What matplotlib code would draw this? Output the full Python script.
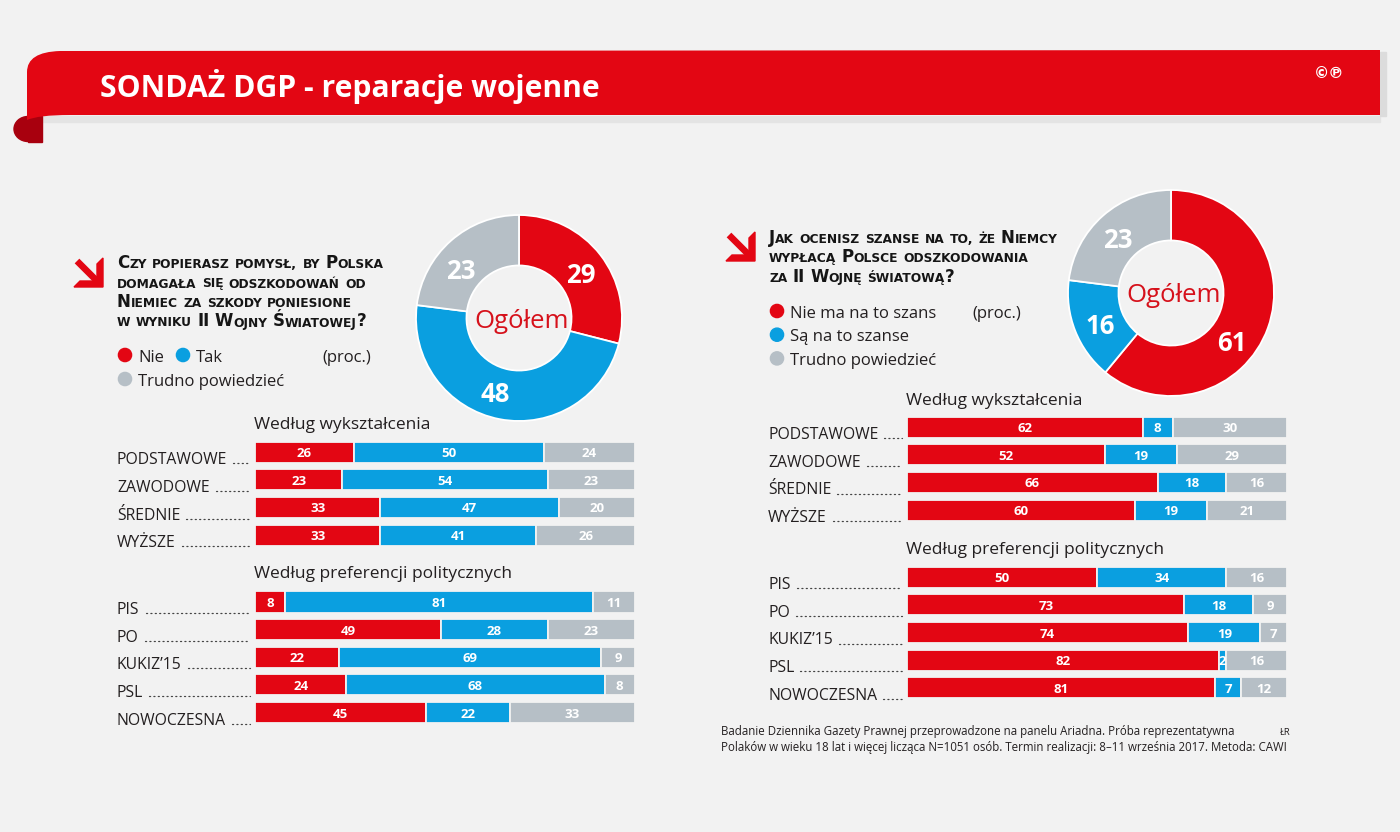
import matplotlib
matplotlib.use('Agg')
import matplotlib.pyplot as plt
from matplotlib.patches import Ellipse, Circle, PathPatch, Rectangle, Polygon
from matplotlib.path import Path
import numpy as np

# ---------------- data ----------------
left_total = [29, 48, 23]            # Nie, Tak, Trudno powiedzieć
right_total = [61, 16, 23]           # Nie ma na to szans, Są na to szanse, Trudno powiedzieć

edu_cats = ['PODSTAWOWE', 'ZAWODOWE', 'ŚREDNIE', 'WYŻSZE']
pol_cats = ['PIS', 'PO', 'KUKIZ\u201915', 'PSL', 'NOWOCZESNA']

left_edu_nie = [26, 23, 33, 33]
left_edu_tak = [50, 54, 47, 41]
left_edu_tr = [24, 23, 20, 26]

left_pol_nie = [8, 49, 22, 24, 45]
left_pol_tak = [81, 28, 69, 68, 22]
left_pol_tr = [11, 23, 9, 8, 33]

right_edu_nie = [62, 52, 66, 60]
right_edu_sz = [8, 19, 18, 19]
right_edu_tr = [30, 29, 16, 21]

right_pol_nie = [50, 73, 74, 82, 81]
right_pol_sz = [34, 18, 19, 2, 7]
right_pol_tr = [16, 9, 7, 16, 12]

left_legend = ['Nie', 'Tak', 'Trudno powiedzieć']
right_legend = ['Nie ma na to szans', 'Są na to szanse', 'Trudno powiedzieć']

left_question = ['Czy popierasz pomysł, by Polska',
                 'domagała się odszkodowań od',
                 'Niemiec za szkody poniesione',
                 'w wyniku II Wojny Światowej?']
right_question = ['Jak ocenisz szanse na to, że Niemcy',
                  'wypłacą Polsce odszkodowania',
                  'za II Wojnę światową?']

title = 'SONDAŻ DGP - reparacje wojenne'
footnote = ['Badanie Dziennika Gazety Prawnej przeprowadzone na panelu Ariadna. Próba reprezentatywna',
            'Polaków w wieku 18 lat i więcej licząca N=1051 osób. Termin realizacji: 8\u201311 września 2017. Metoda: CAWI']

# ---------------- style ----------------
FONT = ['Open Sans', 'DejaVu Sans']
plt.rcParams['font.family'] = FONT
RED = '#e30613'
BLUE = '#0a9fe0'
GREY = '#b6bfc6'
COLORS = [RED, BLUE, GREY]
BG = '#f2f2f2'
TXT = '#231f20'
W, H = 1400, 832
STEP = 27.65

fig = plt.figure(figsize=(14, 8.32), dpi=100)
fig.patch.set_facecolor(BG)
ax = fig.add_axes([0, 0, 1, 1])
ax.set_xlim(0, W)
ax.set_ylim(H, 0)
ax.axis('off')
renderer = fig.canvas.get_renderer()

# ---------------- banner ----------------
ax.add_patch(Rectangle((30, 116), 1350, 6, color='#e4e4e4', zorder=0))
ax.add_patch(Ellipse((28, 129), 28, 25, color='#a8000e', zorder=1))
ax.add_patch(Rectangle((28, 116), 14, 25.5, color='#a8000e', zorder=1))
band = Path([(27, 120), (27, 72), (27, 52), (60, 51), (1380, 50), (1380, 115),
             (70, 115), (38, 115), (27, 120), (27, 120)],
            [Path.MOVETO, Path.LINETO, Path.CURVE3, Path.CURVE3, Path.LINETO, Path.LINETO,
             Path.LINETO, Path.CURVE3, Path.CURVE3, Path.CLOSEPOLY])
ax.add_patch(PathPatch(band, facecolor=RED, edgecolor='none', zorder=2))
ax.add_patch(Rectangle((1380, 52), 6, 64, color='#dcdcdc', zorder=0))
ax.text(100, 97, title, color='white', fontsize=21.7, fontweight='bold', va='baseline', zorder=3)
ax.text(1329, 73, '\u00a9\u2117', color='white', fontsize=11, fontweight='bold',
        ha='center', va='center', zorder=3, family=['DejaVu Sans'])


# ---------------- arrows ----------------
def draw_arrow(cx, cy, s=29, t=6):
    head = [(cx, cy), (cx - s, cy), (cx - s + t, cy - t), (cx - t, cy - t),
            (cx - t, cy - s + t), (cx, cy - s)]
    ax.add_patch(Polygon(head, closed=True, color=RED, zorder=3))
    ax.plot([cx - s + 3, cx - t + 1], [cy - s + 3, cy - t + 1], color=RED,
            lw=t / 1.389 * 1.1, solid_capstyle='butt', zorder=3)


draw_arrow(103, 287)
draw_arrow(755, 261)


# ---------------- small caps text ----------------
def small_caps(x, y, s, big, small):
    cur = x
    for wi, word in enumerate(s.split(' ')):
        if wi > 0:
            cur += 0.32 * big * 100 / 72
        runs = []
        for ch in word:
            kind = 'b' if (ch.isupper() or ch in '?') else 's'
            if runs and runs[-1][0] == kind:
                runs[-1][1] += ch
            else:
                runs.append([kind, ch])
        for kind, txt in runs:
            t = ax.text(cur, y, txt.upper(), fontsize=big if kind == 'b' else small,
                        fontweight='bold', color='#151515', va='baseline', ha='left',
                        family=['DejaVu Sans'])
            bb = t.get_window_extent(renderer)
            cur += bb.width


for i, line in enumerate(left_question):
    small_caps(117, 268 + i * 19.5, line, 12.0, 8.8)
for i, line in enumerate(right_question):
    small_caps(769, 243 + i * 19.3, line, 12.0, 8.8)


# ---------------- legends ----------------
def legend_item(x, y, color, label):
    ax.add_patch(Circle((x, y), 6.6, color=color, zorder=3))
    ax.text(x + 13, y + 6.5, label, fontsize=12, color=TXT, va='baseline')


legend_item(125, 355, RED, left_legend[0])
legend_item(183, 355, BLUE, left_legend[1])
legend_item(125, 379, GREY, left_legend[2])
ax.text(322, 361.5, '(proc.)', fontsize=12, color=TXT, va='baseline')

for i, (lab, col) in enumerate(zip(right_legend, COLORS)):
    legend_item(777, 311 + i * 23.7, col, lab)
ax.text(972, 317.5, '(proc.)', fontsize=12, color=TXT, va='baseline')


# ---------------- donuts ----------------
def donut(cx, cy, vals, shifts):
    R = 103
    axd = fig.add_axes([(cx - R) / W, 1 - (cy + R) / H, 2 * R / W, 2 * R / H])
    wedges, _ = axd.pie(vals, colors=COLORS, startangle=90, counterclock=False, radius=1,
                        wedgeprops=dict(width=0.49, edgecolor='white', linewidth=1.3))
    axd.set_xlim(-1, 1)
    axd.set_ylim(-1, 1)
    axd.axis('off')
    for w, v, sh in zip(wedges, vals, shifts):
        ang = np.deg2rad((w.theta1 + w.theta2) / 2 + sh)
        axd.text(0.745 * np.cos(ang), 0.745 * np.sin(ang), str(v), color='white',
                 fontsize=18.5, fontweight='bold', ha='center', va='center_baseline')
    axd.text(0.03, 0, 'Ogółem', color='#d6111b', fontsize=18.5, ha='center', va='center_baseline')


donut(519, 318, left_total, [-1, -7, 8])
donut(1171, 293, right_total, [-18, 2, 2])


# ---------------- bar blocks ----------------
def bar_block(x0, x1, y_first, cats, series, label_x, dots_end, heading, head_y):
    n = len(cats)
    top = y_first - STEP / 2
    height = n * STEP
    bax = fig.add_axes([x0 / W, 1 - (top + height) / H, (x1 - x0) / W, height / H])
    bax.set_xlim(0, 100)
    bax.set_ylim(n - 0.5, -0.5)
    bax.axis('off')
    left = np.zeros(n)
    ypos = np.arange(n)
    for vals, col in zip(series, COLORS):
        vals = np.array(vals, dtype=float)
        bax.barh(ypos, vals, left=left, height=0.76, color=col, edgecolor=BG, linewidth=1.3)
        for i in range(n):
            bax.text(left[i] + vals[i] / 2, ypos[i], '%d' % vals[i], ha='center',
                     va='center_baseline', color='white', fontsize=9.5, fontweight='bold')
        left += vals
    for i, c in enumerate(cats):
        yb = y_first + i * STEP + 12
        t = ax.text(label_x, yb, c, fontsize=11.3, color=TXT, va='baseline')
        bb = t.get_window_extent(renderer)
        ax.plot([bb.x1 + 6, dots_end], [yb - 1, yb - 1], color='#444444', lw=0.9,
                linestyle=(0, (0.9, 2.6)), dash_capstyle='round')
    ax.text(x0 - 1, head_y, heading, fontsize=12.5, color=TXT, va='baseline')


bar_block(255, 635, 452.2, edu_cats, [left_edu_nie, left_edu_tak, left_edu_tr],
          117, 250, 'Według wykształcenia', 429)
bar_block(255, 635, 602.0, pol_cats, [left_pol_nie, left_pol_tak, left_pol_tr],
          117, 250, 'Według preferencji politycznych', 578)
bar_block(907, 1287, 427.2, edu_cats, [right_edu_nie, right_edu_sz, right_edu_tr],
          768, 902, 'Według wykształcenia', 405)
bar_block(907, 1287, 577.2, pol_cats, [right_pol_nie, right_pol_sz, right_pol_tr],
          768, 902, 'Według preferencji politycznych', 554)

# ---------------- footnote ----------------
ax.text(721, 735, footnote[0], fontsize=8.3, color=TXT, va='baseline')
ax.text(721, 751, footnote[1], fontsize=8.3, color=TXT, va='baseline')
ax.text(1280, 735, 'ŁR', fontsize=6.8, color=TXT, va='baseline')

fig.savefig('out.png', dpi=100, facecolor=BG)
